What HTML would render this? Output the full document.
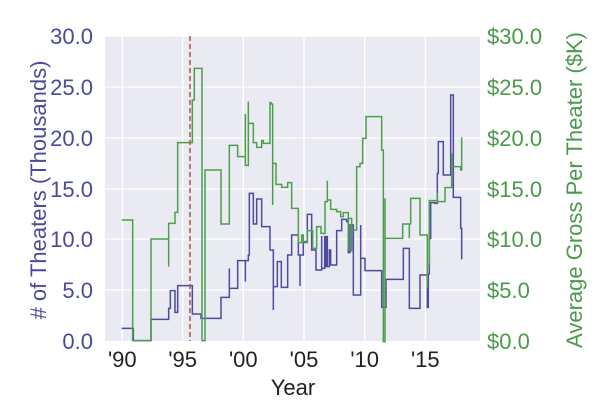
<!DOCTYPE html>
<html><head><style>
body{margin:0;background:#fff;}
svg{display:block;font-family:"Liberation Sans",Arial,sans-serif;}
</style></head><body>
<svg width="600" height="420" viewBox="0 0 600 420">
<rect x="105" y="36" width="375" height="305" fill="#eaeaf2"/>
<g stroke="#fff" stroke-width="1.3">
<line x1="105" x2="480" y1="36" y2="36"/><line x1="105" x2="480" y1="87" y2="87"/>
<line x1="105" x2="480" y1="138" y2="138"/><line x1="105" x2="480" y1="189" y2="189"/>
<line x1="105" x2="480" y1="239" y2="239"/><line x1="105" x2="480" y1="290" y2="290"/>
<line y1="36" y2="341" x1="122.3" x2="122.3"/><line y1="36" y2="341" x1="182.7" x2="182.7"/>
<line y1="36" y2="341" x1="243.3" x2="243.3"/><line y1="36" y2="341" x1="304" x2="304"/>
<line y1="36" y2="341" x1="364.7" x2="364.7"/><line y1="36" y2="341" x1="425.3" x2="425.3"/>
</g>
<g transform="translate(90,20) scale(0.33333)" fill="none" stroke-width="4.5">
<path stroke="#4c4c9e" d="M95 925 H130 V962 H183 V898 H236 V865 H241 V812 H255 V877 H263 V797 H307 V882 H333 V895 H393 V832 H418 V745 V805 H443 V722 H466 V785 V722 H475 V705 H478 V520 H490 V612 H500 V537 H515 V620 H540 V690 H550 V870 V800 H562 V725 H574 V802 H593 V705 H605 V645 H625 V705 H630 V798 V705 H640 V665 H652 V583 H665 V690 H678 V750 H695 V648 V745 H704 V650 H708 V740 H712 V648 V740 H718 V690 H722 V735 H740 V632 H755 V598 H770 V605 H775 V698 H780 V615 H790 V700 V825 H800 V825 H812 V615 V715 H825 V752 H875 V862 H888 V778 H940 V685 H958 V762 V865 H990 V765 H1012 V862 H1015 V762 H1018 V655 H1022 V548 H1035 V550 H1042 V460 H1045 V365 H1060 V465 H1082 V350 V225 H1090 V532 H1112 V625 H1115 V718"/>
<path stroke="#4d9e4d" d="M95 600 H128 V962 H183 V657 H236 V740 V610 H255 V577 H263 V368 H307 V240 H313 V145 H336 V962 H345 V450 H393 V612 H418 V376 H443 V410 H462 V410 H466 V282 V436 H475 V245 V310 H490 V368 H500 V382 H515 V362 H520 V370 H540 V248 H543 V252 H548 V555 V430 H558 V493 H575 V502 H593 V488 H605 V565 H625 V668 H635 V645 H640 V668 H652 V632 H668 V685 H680 V620 H693 V640 H705 V545 H712 V482 V540 H722 V568 H740 V575 H752 V590 H760 V578 H775 V690 V595 H785 V695 V630 H800 V440 H810 V430 H818 V355 H828 V290 H875 V390 H880 V965 H885 V535 V655 H938 V612 H958 V655 V612 H962 V535 H990 V645 H1012 V755 V805 V735 H1018 V542 H1042 V518 V545 H1065 V503 H1085 V400 V440 H1112 V450 H1115 V352"/>
</g>
<line x1="190" x2="190" y1="36" y2="341" stroke="#b05050" stroke-width="1.5" stroke-dasharray="5,3"/>
<g fill="#4a4a9a" font-size="22" text-anchor="end">
<text x="93" y="44">30.0</text><text x="93" y="95">25.0</text><text x="93" y="146">20.0</text>
<text x="93" y="197">15.0</text><text x="93" y="247">10.0</text><text x="93" y="298">5.0</text><text x="93" y="349">0.0</text>
</g>
<g fill="#4a9a4a" font-size="22">
<text x="487" y="44">$30.0</text><text x="487" y="95">$25.0</text><text x="487" y="146">$20.0</text>
<text x="487" y="197">$15.0</text><text x="487" y="247">$10.0</text><text x="487" y="298">$5.0</text><text x="487" y="349">$0.0</text>
</g>
<g fill="#222" font-size="22" text-anchor="middle">
<text x="122.3" y="367">'90</text><text x="182.7" y="367">'95</text><text x="243.3" y="367">'00</text>
<text x="304" y="367">'05</text><text x="364.7" y="367">'10</text><text x="425.3" y="367">'15</text>
<text x="293" y="395">Year</text>
</g>
<text transform="translate(46,190) rotate(-90)" text-anchor="middle" font-size="22" fill="#4a4a9a"># of Theaters (Thousands)</text>
<text transform="translate(582,190) rotate(-90)" text-anchor="middle" font-size="22" fill="#4a9a4a">Average Gross Per Theater ($K)</text>
</svg>
</body></html>
